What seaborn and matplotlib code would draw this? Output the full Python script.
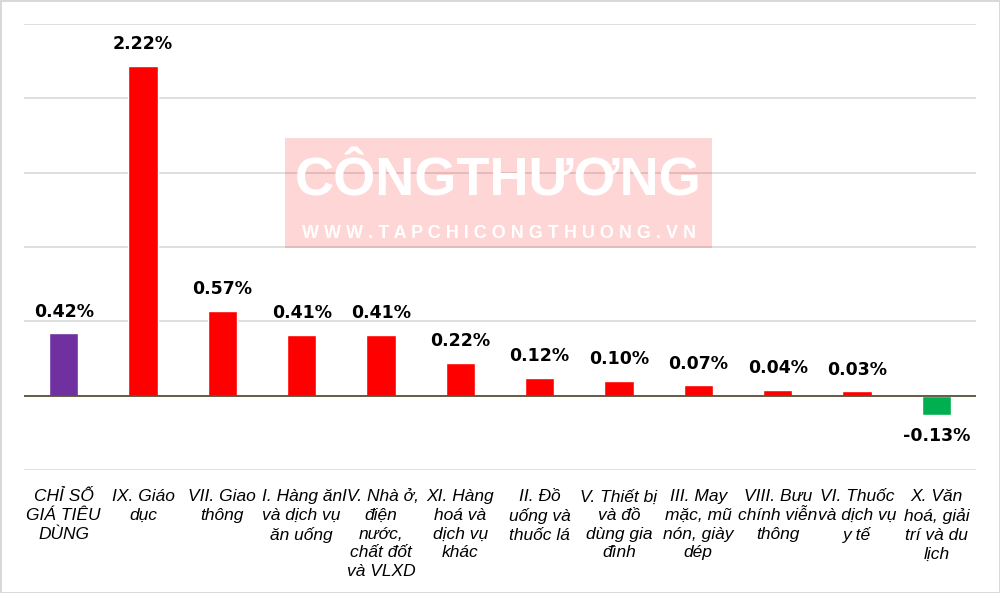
import matplotlib
matplotlib.use('Agg')
import matplotlib.pyplot as plt
import seaborn as sns
from matplotlib.patches import Rectangle

# ============================================================
# Data
# ============================================================

CATEGORIES = [
    'CHỈ SỐ\nGIÁ TIÊU\nDÙNG',
    'IX. Giáo\ndục',
    'VII. Giao\nthông',
    'I. Hàng ăn\nvà dịch vụ\năn uống',
    'IV. Nhà ở,\nđiện\nnước,\nchất đốt\nvà VLXD',
    'XI. Hàng\nhoá và\ndịch vụ\nkhác',
    'II. Đồ\nuống và\nthuốc lá',
    'V. Thiết bị\nvà đồ\ndùng gia\nđình',
    'III. May\nmặc, mũ\nnón, giày\ndép',
    'VIII. Bưu\nchính viễn\nthông',
    'VI. Thuốc\nvà dịch vụ\ny tế',
    'X. Văn\nhoá, giải\ntrí và du\nlịch',
]
VALUES = [0.42, 2.22, 0.57, 0.41, 0.41, 0.22, 0.12, 0.10, 0.07, 0.04, 0.03, -0.13]
BAR_COLORS = ['#7030a0'] + ['#ff0000'] * 10 + ['#00b050']

# ============================================================
# Plot
# ============================================================

sns.set_theme(style='white')
plt.rcParams['font.family'] = ['Liberation Sans', 'DejaVu Sans']

fig = plt.figure(figsize=(10, 5.93), dpi=100)
fig.patch.set_edgecolor('#d9d9d9')
fig.patch.set_linewidth(2)
ax = fig.add_axes([0.024, 1 - 470 / 593, 0.952, (470 - 24) / 593])

# watermark behind the plot area
fig.patches.append(Rectangle((0.285, 1 - 248 / 593), 0.427, 110 / 593,
                             transform=fig.transFigure, facecolor='#ff0000',
                             alpha=0.16, edgecolor='none', zorder=0))
fig.text(0.4985, 1 - 182 / 593, 'CÔNGTHƯƠNG', color='white', ha='center', va='center',
         fontsize=39, fontweight='bold', zorder=1)
fig.text(0.4985, 1 - 234 / 593, 'W W W . T A P C H I C O N G T H U O N G . V N',
         color='white', ha='center', va='center', fontsize=13, fontweight='bold', zorder=1)
ax.set_facecolor('none')

sns.barplot(x=CATEGORIES, y=VALUES, hue=CATEGORIES, palette=BAR_COLORS,
            legend=False, width=0.37, saturation=1, ax=ax, zorder=3)

for container in ax.containers:
    ax.bar_label(container, labels=[f'{v:.2f}%' for v in container.datavalues],
                 padding=9, fontsize=12.5, fontweight='bold', color='black',
                 family=['DejaVu Sans'])

ax.set_ylim(-0.5, 2.5)
ax.set_xlim(-0.5, len(CATEGORIES) - 0.5)
ax.set_yticks([-0.5, 0, 0.5, 1.0, 1.5, 2.0, 2.5])
ax.yaxis.grid(True, color='#d9d9d9', linewidth=1.2)
ax.set_axisbelow(True)
ax.axhline(0, color='#595136', linewidth=1.3, zorder=4)
ax.tick_params(axis='y', left=False, labelleft=False)
ax.tick_params(axis='x', bottom=False, pad=8, labelcolor='black')
for lbl in ax.get_xticklabels():
    lbl.set_fontstyle('italic')
    lbl.set_fontsize(12.5)
    lbl.set_va('top')
    lbl.set_linespacing(1.3)
for s in ax.spines.values():
    s.set_visible(False)
ax.set_xlabel('')
ax.set_ylabel('')

fig.savefig('out.png', dpi=100)
